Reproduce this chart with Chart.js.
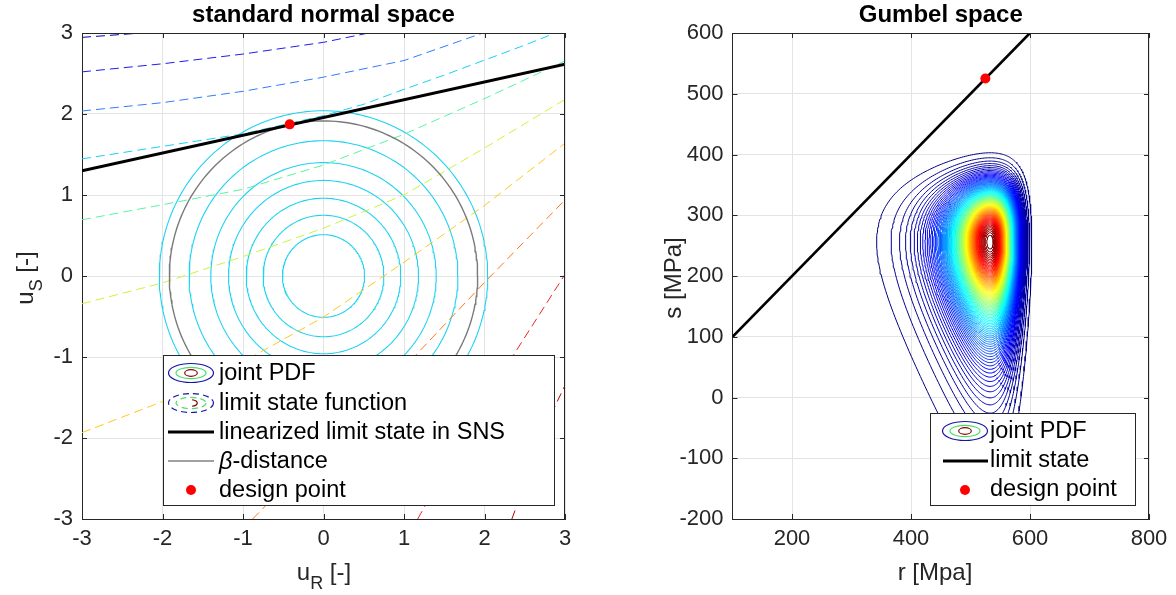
<!DOCTYPE html>
<html><head><meta charset="utf-8">
<script src="https://cdn.jsdelivr.net/npm/chart.js@4/dist/chart.umd.min.js"></script>
<style>
html,body{margin:0;padding:0;background:#fff;}
#wrap{position:relative;width:1176px;height:595px;overflow:hidden;background:#fff;}
canvas{position:absolute;top:0;}
#c1{left:0;} #c2{left:588px;}
</style></head><body>
<div id="wrap"><canvas id="c1" width="588" height="595"></canvas><canvas id="c2" width="588" height="595"></canvas></div>
<script>
// ================= LEFT PANEL: standard normal space =================
const snsTicks = [-3, -2, -1, 0, 1, 2, 3];
const pdfRadii = [0.51, 0.75, 0.96, 1.18, 1.40, 1.67, 2.04];   // joint PDF contours (circles)
const betaRadius = 1.915;                                       // beta-distance circle
const linURange = [-3, 3];                                      // linearized limit state
const linSValues = [1.30, 2.616];
const designU_R = [-0.42];
const designU_S = [1.872];
// limit state function contours (dashed)
const lsf1R = [-3, -2.26];                     const lsf1S = [2.946, 3.0];
const lsf2R = [-3, -2, -1, 0, 0.56];           const lsf2S = [2.52, 2.62, 2.74, 2.885, 3.0];
const lsf3R = [-3, -2, -1, 0, 1, 1.98];        const lsf3S = [2.037, 2.14, 2.28, 2.455, 2.66, 3.0];
const lsf4R = [-3, -2, -1, -0.42, 0, 0.5, 1, 1.5, 2, 2.5, 2.88];
const lsf4S = [1.446, 1.60, 1.755, 1.885, 1.98, 2.12, 2.305, 2.48, 2.665, 2.85, 3.0];
const lsf5R = [-3, -2, -1, 0, 1, 2, 3];        const lsf5S = [0.694, 0.88, 1.07, 1.37, 1.75, 2.19, 2.655];
const lsf6R = [-3, -2, -1, 0, 1, 2, 3];        const lsf6S = [-0.343, -0.085, 0.24, 0.59, 1.0, 1.58, 2.18];
const lsf7R = [-3, -2, -1, 0, 1, 2, 3];        const lsf7S = [-1.934, -1.55, -1.06, -0.507, 0.17, 0.87, 1.64];
const lsf8R = [-0.88, 0, 1, 2, 3];             const lsf8S = [-3.0, -2.1, -1.13, -0.08, 0.94];
const lsf9R = [1.17, 1.5, 2, 2.37, 3];         const lsf9S = [-3.0, -2.42, -1.58, -0.96, 0.02];
const lsf10R = [2.34, 2.6, 2.87, 3];           const lsf10S = [-3.0, -2.3, -1.62, -1.35];
const lsfColors = ['#0000a8','#1c1cf0','#2e7dff','#18d0f4','#58f4a4','#c8f53c','#ffc81c','#ff761c','#ee2424','#b80000'];

// ================= RIGHT PANEL: Gumbel space =================
const rTicks = [200, 400, 600, 800];
const sTicks = [-200, -100, 0, 100, 200, 300, 400, 500, 600];
const limitR = [100, 600];
const limitS = [100, 600];
const designR = [525];
const designS = [525];
// Gumbel (minimum) marginals: mode and scale
const rMode = 533, rScale = 34.7;
const sMode = 256, sScale = 72.8;
const pdfLevelCount = 89;        // number of joint-PDF contour levels
const pdfLevelStep = 0.0111;     // level spacing, relative to the peak density

// ================= helpers =================
const FONT = "'Liberation Sans', Arial, Helvetica, sans-serif";
const TXT = '#262626';
const GRID = '#e4e4e4';
const TICK_SIZE = 22, LABEL_SIZE = 24, TITLE_SIZE = 24, LEG = 23.5;

function pairs(xs, ys){ return xs.map((x, i) => ({x: x, y: ys[i]})); }
function circle(R){ const p=[]; const n=240; for(let i=0;i<=n;i++){ const a=2*Math.PI*i/n; p.push({x:R*Math.cos(a), y:R*Math.sin(a)}); } return p; }
function jet(t){ const c=v=>Math.round(255*Math.max(0,Math.min(1,v)));
  return 'rgb('+c(1.5-Math.abs(4*t-3))+','+c(1.5-Math.abs(4*t-2))+','+c(1.5-Math.abs(4*t-1))+')'; }
// solve e^z - z - 1 = c on the requested branch
function gInv(c, sign){
  if (c <= 0) return 0;
  let lo, hi;
  if (sign >= 0){ lo = 0; hi = Math.log(c+1)+1; } else { lo = -(c+1); hi = 0; }
  for (let i=0;i<60;i++){ const m=(lo+hi)/2; const g=Math.exp(m)-m-1;
    if (sign >= 0){ if (g < c) lo = m; else hi = m; } else { if (g < c) hi = m; else lo = m; } }
  return (lo+hi)/2;
}
function gumbelContour(ratio){
  const D = -Math.log(ratio); const p=[]; const n=260;
  for (let i=0;i<=n;i++){ const a=2*Math.PI*i/n; const c=Math.cos(a), s=Math.sin(a);
    const zs=gInv(D*c*c, c), zr=gInv(D*s*s, s);
    p.push({x: rMode + rScale*zr, y: sMode + sScale*zs}); }
  return p;
}
function drawLabel(ctx, parts, cx, cy, rot, size){
  ctx.save(); ctx.translate(cx, cy); ctx.rotate(rot); ctx.fillStyle = TXT; ctx.textBaseline = 'alphabetic'; ctx.textAlign='left';
  let w = 0;
  const f = p => (p.italic?'italic ':'') + (p.sub? Math.round(size*0.75) : size) + 'px ' + FONT;
  parts.forEach(p => { ctx.font = f(p); p.w = ctx.measureText(p.t).width; w += p.w; });
  let x = -w/2;
  parts.forEach(p => { ctx.font = f(p); ctx.fillText(p.t, x, size*0.36 + (p.sub ? size*0.40 : 0)); x += p.w; });
  ctx.restore();
}
function lineDS(data, color, width, order, dash){
  return {data: data, showLine: true, pointRadius: 0, borderColor: color, borderWidth: width, borderDash: dash || [], tension: 0, fill: false, clip: 0, order: order};
}

const frame = {
  id: 'frame',
  afterDatasetsDraw(chart){
    const {ctx, chartArea: a, scales: {x, y}} = chart;
    ctx.save(); ctx.strokeStyle = TXT; ctx.lineWidth = 1; ctx.beginPath();
    ctx.moveTo(a.left, Math.round(a.top)+0.5); ctx.lineTo(a.right, Math.round(a.top)+0.5);
    ctx.moveTo(Math.round(a.right)-0.5, a.top); ctx.lineTo(Math.round(a.right)-0.5, a.bottom);
    x.ticks.forEach(t => { const px = Math.round(x.getPixelForValue(t.value))+0.5;
      ctx.moveTo(px, a.bottom); ctx.lineTo(px, a.bottom-5); ctx.moveTo(px, a.top); ctx.lineTo(px, a.top+5); });
    y.ticks.forEach(t => { const py = Math.round(y.getPixelForValue(t.value))+0.5;
      ctx.moveTo(a.left, py); ctx.lineTo(a.left+5, py); ctx.moveTo(a.right, py); ctx.lineTo(a.right-5, py); });
    ctx.stroke(); ctx.restore();
  }
};

function pdfIcon(ctx, cx, cy, dashed){
  ctx.save(); ctx.lineWidth = 1.2; ctx.setLineDash(dashed ? [6,4] : []);
  [[22.5,9.5,'#1414a8'],[15,5.6,'#44e06a'],[6.3,3.3,'#8a0000']].forEach(e => {
    ctx.strokeStyle = e[2]; ctx.beginPath();
    if (dashed && e[2] === '#8a0000') { ctx.setLineDash([]); ctx.ellipse(cx, cy, e[0], e[1], 0, -0.45*Math.PI, 0.45*Math.PI); }
    else ctx.ellipse(cx, cy, e[0], e[1], 0, 0, 2*Math.PI);
    ctx.stroke(); });
  ctx.restore();
}
function legendBox(ctx, x0, y0, x1, y1){
  ctx.save(); ctx.fillStyle = '#fff'; ctx.fillRect(x0, y0, x1-x0, y1-y0);
  ctx.strokeStyle = TXT; ctx.lineWidth = 1; ctx.strokeRect(x0+0.5, y0+0.5, x1-x0, y1-y0); ctx.restore();
}
function legendText(ctx, parts, x, y, size){
  ctx.save(); ctx.fillStyle = '#000'; ctx.textBaseline = 'middle'; ctx.textAlign = 'left';
  parts.forEach(p => { ctx.font = (p.italic ? 'italic ' : '') + size + 'px ' + FONT; ctx.fillText(p.t, x, y); x += ctx.measureText(p.t).width; });
  ctx.restore();
}

const leftDecor = {
  id: 'leftDecor',
  afterDraw(chart){
    const ctx = chart.ctx;
    drawLabel(ctx, [{t:'u'},{t:'S',sub:true},{t:' [-]'}], 24, 278, -Math.PI/2, LABEL_SIZE);
    drawLabel(ctx, [{t:'u'},{t:'R',sub:true},{t:' [-]'}], 324, 571, 0, LABEL_SIZE);
    legendBox(ctx, 163, 355, 554, 505);
    const ix = 191, tx = 219;
    pdfIcon(ctx, ix, 373, false); legendText(ctx, [{t:'joint PDF'}], tx, 374, LEG);
    pdfIcon(ctx, ix, 403, true);  legendText(ctx, [{t:'limit state function'}], tx, 404, LEG);
    ctx.save(); ctx.strokeStyle='#000'; ctx.lineWidth=3; ctx.beginPath(); ctx.moveTo(168,432); ctx.lineTo(214,432); ctx.stroke();
    ctx.strokeStyle='#808080'; ctx.lineWidth=1.3; ctx.beginPath(); ctx.moveTo(168,461); ctx.lineTo(214,461); ctx.stroke();
    ctx.fillStyle='#ff0000'; ctx.beginPath(); ctx.arc(ix, 490, 5, 0, 2*Math.PI); ctx.fill(); ctx.restore();
    legendText(ctx, [{t:'linearized limit state in SNS'}], tx, 433, LEG);
    legendText(ctx, [{t:'\u03B2', italic:true},{t:'-distance'}], tx, 462, LEG);
    legendText(ctx, [{t:'design point'}], tx, 491, LEG);
  }
};
const rightDecor = {
  id: 'rightDecor',
  afterDraw(chart){
    const ctx = chart.ctx;
    drawLabel(ctx, [{t:'s [MPa]'}], 84, 278, -Math.PI/2, LABEL_SIZE);
    drawLabel(ctx, [{t:'r [Mpa]'}], 347, 571, 0, LABEL_SIZE);
    legendBox(ctx, 342, 413, 547, 505);
    const ix = 377, tx = 402;
    pdfIcon(ctx, ix, 431, false); legendText(ctx, [{t:'joint PDF'}], tx, 432, LEG);
    ctx.save(); ctx.strokeStyle='#000'; ctx.lineWidth=3; ctx.beginPath(); ctx.moveTo(355,461); ctx.lineTo(400,461); ctx.stroke();
    ctx.fillStyle='#ff0000'; ctx.beginPath(); ctx.arc(ix, 490, 5, 0, 2*Math.PI); ctx.fill(); ctx.restore();
    legendText(ctx, [{t:'limit state'}], tx, 461, LEG);
    legendText(ctx, [{t:'design point'}], tx, 490, LEG);
  }
};

function axisOpts(min, max, tickArr, fit){
  return {
    type: 'linear', min: min, max: max,
    afterBuildTicks: s => { s.ticks = tickArr.map(v => ({value: v})); },
    afterFit: fit,
    grid: {color: GRID, drawTicks: false, lineWidth: 1},
    border: {color: TXT, width: 1},
    ticks: {color: TXT, font: {family: FONT, size: TICK_SIZE}, padding: 7, maxRotation: 0, autoSkip: false}
  };
}
function baseOpts(titleText, padRight){
  return {
    responsive: false, animation: false, devicePixelRatio: 1,
    layout: {padding: {top: 0, right: padRight, left: 0, bottom: 0}},
    plugins: {
      legend: {display: false}, tooltip: {enabled: false},
      title: {display: true, text: titleText, fullSize: false, color: '#000',
              font: {family: FONT, size: TITLE_SIZE, weight: 'bold', lineHeight: 1.2}, padding: {top: 1, bottom: 3.2}}
    }
  };
}

// ---------- left chart ----------
const leftSets = [];
leftSets.push({data: pairs(designU_R, designU_S), pointRadius: 5, pointBackgroundColor: '#ff0000', pointBorderWidth: 0, showLine: false, order: 0});
leftSets.push(lineDS(pairs(linURange, linSValues), '#000', 3, 1));
leftSets.push(lineDS(circle(betaRadius), '#7a7a7a', 1.4, 2));
[[lsf1R,lsf1S],[lsf2R,lsf2S],[lsf3R,lsf3S],[lsf4R,lsf4S],[lsf5R,lsf5S],[lsf6R,lsf6S],[lsf7R,lsf7S],[lsf8R,lsf8S],[lsf9R,lsf9S],[lsf10R,lsf10S]]
  .forEach((c, i) => leftSets.push(lineDS(pairs(c[0], c[1]), lsfColors[i], 1, 3, [9,5])));
pdfRadii.forEach(R => leftSets.push(lineDS(circle(R), '#1fd2f2', 1.1, 4)));

const lo = baseOpts('standard normal space', 23);
lo.scales = {
  x: axisOpts(-3, 3, snsTicks, s => { s.height = 76; }),
  y: axisOpts(-3, 3, snsTicks, s => { s.width = 82; })
};
lo.scales.y.ticks.padding = 9;
new Chart(document.getElementById('c1'), {type: 'scatter', data: {datasets: leftSets}, options: lo, plugins: [frame, leftDecor]});

// ---------- right chart ----------
const rightSets = [];
rightSets.push({data: pairs(designR, designS), pointRadius: 5, pointBackgroundColor: '#ff0000', pointBorderWidth: 0, showLine: false, order: 0});
rightSets.push(lineDS(pairs(limitR, limitS), '#000', 2.6, 1));
for (let k = 1; k <= pdfLevelCount; k++){
  rightSets.push(lineDS(gumbelContour(k*pdfLevelStep), jet((k-1)/(pdfLevelCount-1)), 1, 3));
}
const ro = baseOpts('Gumbel space', 27);
ro.scales = {
  x: axisOpts(100, 800, rTicks, s => { s.height = 76; }),
  y: axisOpts(-200, 600, sTicks, s => { s.width = 144.5; })
};
ro.scales.y.ticks.padding = 9;
new Chart(document.getElementById('c2'), {type: 'scatter', data: {datasets: rightSets}, options: ro, plugins: [frame, rightDecor]});
</script>
</body></html>
